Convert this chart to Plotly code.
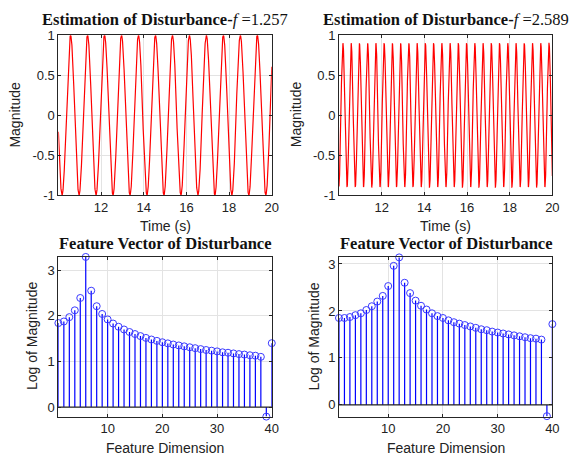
import numpy as np
import plotly.graph_objects as go

# ---- data ----
freqs = [1.257, 2.589]          # disturbance frequency (Hz), from titles
amplitudes = [1.0, 0.9]
first_peak_time = [10.57, 10.185]
time_range = [10.0, 20.0]
time_ticks = [12, 14, 16, 18, 20]
mag_ticks = [-1, -0.5, 0, 0.5, 1]

feature_dims = list(range(1, 41))
feature_left = [1.84, 1.875, 1.97, 2.12, 2.39, 3.29, 2.55, 2.21, 2.04, 1.92,
                1.83, 1.76, 1.70, 1.645, 1.60, 1.555, 1.515, 1.48, 1.45, 1.42,
                1.395, 1.37, 1.35, 1.33, 1.31, 1.29, 1.27, 1.25, 1.235, 1.22,
                1.20, 1.19, 1.175, 1.16, 1.15, 1.135, 1.125, 1.10, -0.21, 1.40]
feature_right = [1.85, 1.85, 1.87, 1.91, 1.95, 2.02, 2.10, 2.20, 2.32, 2.53,
                 2.96, 3.14, 2.60, 2.38, 2.22, 2.11, 2.03, 1.95, 1.89, 1.85,
                 1.80, 1.76, 1.73, 1.70, 1.67, 1.64, 1.61, 1.59, 1.56, 1.54,
                 1.52, 1.50, 1.48, 1.46, 1.44, 1.42, 1.41, 1.39, -0.24, 1.72]
feature_ticks = [10, 20, 30, 40]
log_ticks = [0, 1, 2, 3]

W, H = 582, 465
OFF = 8  # page body margin
def fx(p): return (p - OFF) / W
def fy(p): return (H - (p - OFF)) / H

dom_x = [[fx(59), fx(275)], [fx(343), fx(559)]]
dom_top = [fy(194), fy(29)]
dom_bot = [fy(423), fy(258)]

fig = go.Figure()
AX = "#262626"
GRID = "#e3e3e3"
FONT = "Liberation Sans, Arial, sans-serif"

# sinusoids
for i in range(2):
    t = np.linspace(time_range[0], time_range[1], 4001)
    y = amplitudes[i] * np.cos(2 * np.pi * freqs[i] * (t - first_peak_time[i]))
    fig.add_trace(go.Scatter(x=t, y=y, mode="lines", line=dict(color="red", width=1.2),
                             xaxis="x" if i == 0 else "x2", yaxis="y" if i == 0 else "y2",
                             showlegend=False, hoverinfo="skip"))

# stems
for i, vals in enumerate([feature_left, feature_right]):
    xa = "x3" if i == 0 else "x4"
    ya = "y3" if i == 0 else "y4"
    sx, sy = [], []
    for d, v in zip(feature_dims, vals):
        sx += [d, d, None]
        sy += [0, v, None]
    fig.add_trace(go.Scatter(x=sx, y=sy, mode="lines", line=dict(color="#0000ff", width=1.2),
                             xaxis=xa, yaxis=ya, showlegend=False, hoverinfo="skip"))
    fig.add_trace(go.Scatter(x=feature_dims, y=vals, mode="markers",
                             marker=dict(symbol="circle-open", size=7, color="#3a3aff",
                                         line=dict(width=1, color="#3a3aff")),
                             xaxis=xa, yaxis=ya, showlegend=False, cliponaxis=False))
    fig.add_shape(type="line", xref=f"{xa} domain", yref=ya, x0=0, x1=1, y0=0, y1=0,
                  line=dict(color=AX, width=1.2))

def axis_common(domain, anchor):
    return dict(domain=domain, anchor=anchor, showline=True, mirror="ticks", linecolor=AX,
                linewidth=1, ticks="inside", ticklen=3, tickcolor=AX, showgrid=True,
                gridcolor=GRID, gridwidth=1, zeroline=False,
                tickfont=dict(family=FONT, size=13, color="#222"))

lay = {}
lay["xaxis"] = dict(axis_common(dom_x[0], "y"), range=time_range, tickvals=time_ticks)
lay["yaxis"] = dict(axis_common(dom_top, "x"), range=[-1, 1], tickvals=mag_ticks,
                    ticktext=[str(v) for v in mag_ticks])
lay["xaxis2"] = dict(axis_common(dom_x[1], "y2"), range=time_range, tickvals=time_ticks)
lay["yaxis2"] = dict(axis_common(dom_top, "x2"), range=[-1, 1], tickvals=mag_ticks,
                     ticktext=[str(v) for v in mag_ticks])
lay["xaxis3"] = dict(axis_common(dom_x[0], "y3"), range=[1, 40], tickvals=feature_ticks)
lay["yaxis3"] = dict(axis_common(dom_bot, "x3"), range=[-0.21, 3.29], tickvals=log_ticks)
lay["xaxis4"] = dict(axis_common(dom_x[1], "y4"), range=[1, 40], tickvals=feature_ticks)
lay["yaxis4"] = dict(axis_common(dom_bot, "x4"), range=[-0.25, 3.15], tickvals=log_ticks)
fig.update_layout(**lay)

ann = []
SERIF = "Liberation Serif, Times New Roman, serif"
titles = [(167, 13, "<b>Estimation of Disturbance-</b><i>f</i> =1.257"),
          (451, 13, "<b>Estimation of Disturbance-</b><i>f</i> =2.589"),
          (167, 244, "<b>Feature Vector of Disturbance</b>"),
          (451, 244, "<b>Feature Vector of Disturbance</b>")]
for x, y, txt in titles:
    ann.append(dict(x=fx(x), y=fy(y), xref="paper", yref="paper", text=txt, showarrow=False,
                    xanchor="center", yanchor="middle", borderpad=0,
                    font=dict(family=SERIF, size=16.5, color="#111")))
xlabels = [(167, 226, "Time (s)"), (451, 226, "Time (s)"),
           (167, 455, "Feature Dimension"), (451, 455, "Feature Dimension")]
for x, y, txt in xlabels:
    ann.append(dict(x=fx(x), y=fy(y), xref="paper", yref="paper", text=txt, showarrow=False,
                    xanchor="center", yanchor="middle", borderpad=0,
                    font=dict(family=FONT, size=14, color="#222")))
ylabels = [(15, 111, "Magnitude"), (299, 111, "Magnitude"),
           (33, 340, "Log of Magnitude"), (318, 340, "Log of Magnitude")]
for x, y, txt in ylabels:
    ann.append(dict(x=fx(x), y=fy(y), xref="paper", yref="paper", text=txt, showarrow=False,
                    textangle=-90, xanchor="center", yanchor="middle", borderpad=0,
                    font=dict(family=FONT, size=14, color="#222")))

fig.update_layout(annotations=ann, width=W, height=H, margin=dict(l=0, r=0, t=0, b=0),
                  paper_bgcolor="white", plot_bgcolor="white", showlegend=False)
fig.write_html("out.html")
